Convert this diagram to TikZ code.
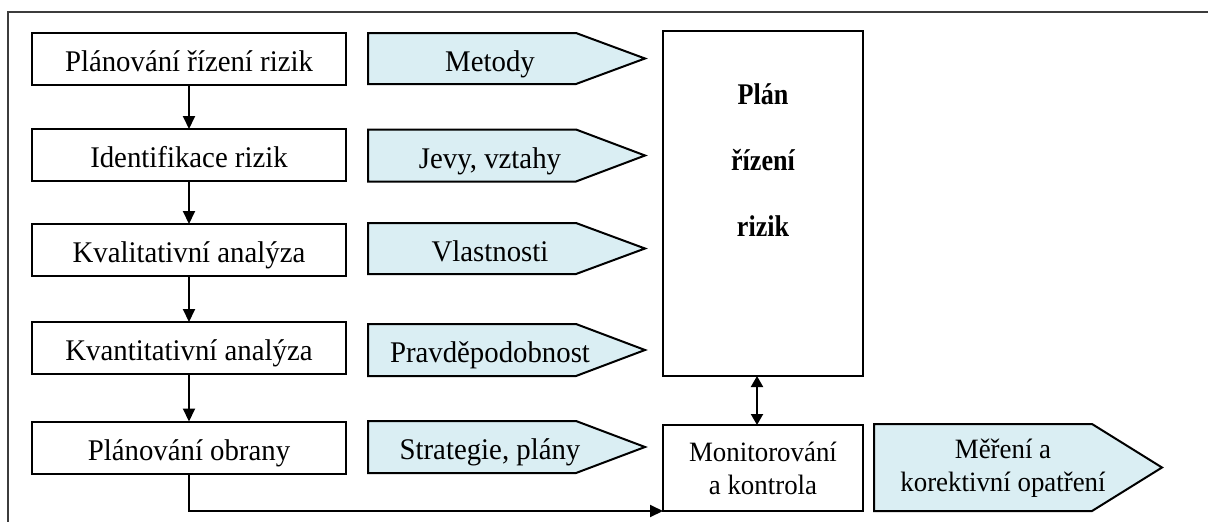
\documentclass[tikz,border=0pt]{standalone}
\usepackage{fontspec}
\setmainfont{Liberation Serif}[FakeStretch=0.96]
\newfontfamily\condbold{Liberation Serif}[FakeStretch=0.87]
\usetikzlibrary{arrows.meta,calc}

\definecolor{paleblue}{RGB}{218,238,243}
\definecolor{framegray}{RGB}{60,60,60}

\tikzset{
  every node/.style={inner sep=0pt, outer sep=0pt},
  txt/.style={font=\fontsize{30}{34}\selectfont, text height=27pt, text depth=2pt, align=center},
  twoline/.style={font=\fontsize{28}{33}\selectfont, align=center},
  stepbox/.style={draw=black, line width=2pt, fill=white, minimum width=314pt, minimum height=52pt},
  sidebox/.style={draw=black, line width=2pt, fill=white, minimum width=200pt},
  body/.style={minimum width=208pt, minimum height=51pt},
  pentfill/.style={draw=black, line width=2pt, fill=paleblue, line join=miter},
  flow/.style={line width=2pt, -{Triangle[length=13pt,width=12pt]}},
  both/.style={line width=2pt, {Triangle[length=11pt,width=12pt]}-{Triangle[length=11pt,width=12pt]}},
}

% pentagon arrow: name, centre of the rectangular part, width, height, tip length, text shift, text
\newcommand{\pentbox}[7]{%
  \node[body, minimum width=#3pt, minimum height=#4pt] (#1) at (#2) {};
  \draw[pentfill] (#1.north west) -- (#1.north east) -- ([xshift=#5pt]#1.east)
     -- (#1.south east) -- (#1.south west) -- cycle;
  \node[txt] (#1t) at ([xshift=#6pt]#1.center) {#7};
}

\begin{document}
\begin{tikzpicture}[x=1pt,y=-1pt]
  \useasboundingbox (0,0) rectangle (1208,522);

  % outer frame
  \draw[framegray, line width=1.8pt] (8,530) -- (8,12) -- (1220,12);

  % process steps
  \node[stepbox, txt] (b1) at (189,58.5) {Plánování řízení rizik};
  \node[stepbox, txt] (b2) at (189,155)  {Identifikace rizik};
  \node[stepbox, txt] (b3) at (189,250)  {Kvalitativní analýza};
  \node[stepbox, txt] (b4) at (189,348)  {Kvantitativní analýza};
  \node[stepbox, txt] (b5) at (189,447.5){Plánování obrany};

  \draw[flow] (b1.south) -- (b2.north);
  \draw[flow] (b2.south) -- (b3.north);
  \draw[flow] (b3.south) -- (b4.north);
  \draw[flow] (b4.south) -- (b5.north);

  % outputs of each step
  \pentbox{p1}{472,58.5}{208}{51}{69}{18}{Metody}
  \pentbox{p2}{472,155.5}{208}{52}{69}{18}{Jevy, vztahy}
  \pentbox{p3}{472,248.5}{208}{51}{69}{18}{Vlastnosti}
  \pentbox{p4}{472,350}{208}{52}{69}{18}{Pravděpodobnost}
  \pentbox{p5}{472,447}{208}{52}{69}{18}{Strategie, plány}

  % risk management plan
  \node[sidebox, minimum height=345pt] (plan) at (763,203.5) {};
  \node[font=\fontsize{30}{34}\condbold\bfseries, align=center] (plant) at (763,160)
    {Plán\\[32pt]řízení\\[32pt]rizik};

  % monitoring
  \node[sidebox, minimum height=86pt, twoline] (mon) at (763,468)
    {Monitorování\\a kontrola};

  \draw[both] ([xshift=-6pt]plan.south) -- ([xshift=-6pt]mon.north);
  \draw[flow] (b5.south) |- (mon.south west);

  % corrective measures
  \node[body, minimum width=218pt, minimum height=87pt] (m) at (983,467.5) {};
  \draw[pentfill] (m.north west) -- (m.north east) -- ([xshift=70pt]m.east)
     -- (m.south east) -- (m.south west) -- cycle;
  \node[twoline] (mt) at (1003,468)
    {Měření a\\korektivní opatření};
\end{tikzpicture}
\end{document}
